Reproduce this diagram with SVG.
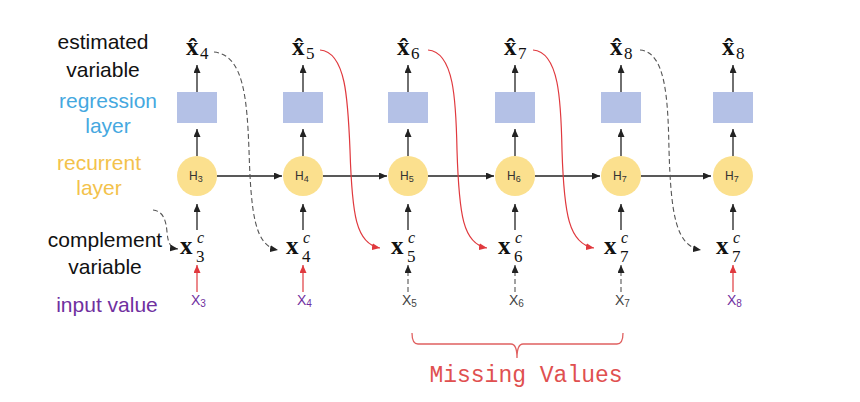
<svg xmlns="http://www.w3.org/2000/svg" width="860" height="402" viewBox="0 0 860 402">
<defs>
<marker id="ah" viewBox="0 0 8 7" refX="8" refY="3.5" markerWidth="8" markerHeight="7" orient="auto" markerUnits="userSpaceOnUse"><path d="M0,0 L8,3.5 L0,7 z" fill="#222"/></marker>
<marker id="ahr" viewBox="0 0 8 7" refX="8" refY="3.5" markerWidth="8" markerHeight="7" orient="auto" markerUnits="userSpaceOnUse"><path d="M0,0 L8,3.5 L0,7 z" fill="#e0393e"/></marker>
<style>
.lbl{font-family:"Liberation Sans",Arial,sans-serif;font-size:21px;text-anchor:middle}
.m{font-family:"Liberation Serif","DejaVu Serif",serif;fill:#111}
.bx{font-weight:bold;font-size:25px}
.sub{font-size:17px;font-weight:normal}
.sup{font-style:italic;font-size:16px;font-weight:normal}
.reg{fill:#b4c1e6}
.rec{fill:#fbe08e}
.h{font-family:"Liberation Sans",Arial,sans-serif;font-size:12px;fill:#333}
.hs{font-size:9px}
.in{font-family:"Liberation Sans",Arial,sans-serif;font-size:14px}
.ins{font-size:10px}
.p{fill:#7030a0}
.g{fill:#444}
.ar{stroke:#222;stroke-width:1.3;fill:none;marker-end:url(#ah)}
.rd{stroke:#e0393e;stroke-width:1.2;fill:none;marker-end:url(#ahr)}
.ds{stroke:#555;stroke-width:1.1;fill:none;stroke-dasharray:5,3;marker-end:url(#ah)}
</style>
</defs>
<rect width="860" height="402" fill="#fff"/>

<g id="legend">
<text class="lbl" x="103" y="49" fill="#111">estimated</text>
<text class="lbl" x="103" y="77" fill="#111">variable</text>
<text class="lbl" x="108" y="108" fill="#45a8e0">regression</text>
<text class="lbl" x="108" y="133" fill="#45a8e0">layer</text>
<text class="lbl" x="99" y="170" fill="#f3c24b">recurrent</text>
<text class="lbl" x="99" y="195" fill="#f3c24b">layer</text>
<text class="lbl" x="105" y="247" fill="#111">complement</text>
<text class="lbl" x="105" y="274" fill="#111">variable</text>
<text class="lbl" x="107" y="312" fill="#7030a0">input value</text>
</g>

<!-- column 1 -->
<g id="xhat4"><text class="m bx" x="186" y="55">x̂<tspan class="sub" x="200" y="59">4</tspan></text></g>
<g id="reg1"><rect class="reg" x="177" y="92" width="40" height="31"/></g>
<g id="H3"><circle class="rec" cx="197" cy="176" r="20"/><text class="h" x="189" y="180">H<tspan class="hs" dy="2">3</tspan></text></g>
<g id="xc3"><text class="m bx" x="180" y="254">x<tspan class="sup" x="197" y="243">c</tspan><tspan class="sub" x="196" y="262">3</tspan></text></g>
<g id="in3"><text class="in p" x="191" y="305">X<tspan class="ins" dy="2">3</tspan></text></g>

<!-- column 2 -->
<g id="xhat5"><text class="m bx" x="292" y="55">x̂<tspan class="sub" x="306" y="59">5</tspan></text></g>
<g id="reg2"><rect class="reg" x="283" y="92" width="40" height="31"/></g>
<g id="H4"><circle class="rec" cx="303" cy="176" r="20"/><text class="h" x="295" y="180">H<tspan class="hs" dy="2">4</tspan></text></g>
<g id="xc4"><text class="m bx" x="286" y="254">x<tspan class="sup" x="303" y="243">c</tspan><tspan class="sub" x="302" y="262">4</tspan></text></g>
<g id="in4"><text class="in p" x="297" y="305">X<tspan class="ins" dy="2">4</tspan></text></g>

<!-- column 3 -->
<g id="xhat6"><text class="m bx" x="397" y="55">x̂<tspan class="sub" x="411" y="59">6</tspan></text></g>
<g id="reg3"><rect class="reg" x="388" y="92" width="40" height="31"/></g>
<g id="H5"><circle class="rec" cx="408" cy="176" r="20"/><text class="h" x="400" y="180">H<tspan class="hs" dy="2">5</tspan></text></g>
<g id="xc5"><text class="m bx" x="391" y="254">x<tspan class="sup" x="408" y="243">c</tspan><tspan class="sub" x="407" y="262">5</tspan></text></g>
<g id="in5"><text class="in g" x="402" y="305">X<tspan class="ins" dy="2">5</tspan></text></g>

<!-- column 4 -->
<g id="xhat7"><text class="m bx" x="504" y="55">x̂<tspan class="sub" x="518" y="59">7</tspan></text></g>
<g id="reg4"><rect class="reg" x="495" y="92" width="40" height="31"/></g>
<g id="H6"><circle class="rec" cx="515" cy="176" r="20"/><text class="h" x="507" y="180">H<tspan class="hs" dy="2">6</tspan></text></g>
<g id="xc6"><text class="m bx" x="498" y="254">x<tspan class="sup" x="515" y="243">c</tspan><tspan class="sub" x="514" y="262">6</tspan></text></g>
<g id="in6"><text class="in g" x="509" y="305">X<tspan class="ins" dy="2">6</tspan></text></g>

<!-- column 5 -->
<g id="xhat8a"><text class="m bx" x="610" y="55">x̂<tspan class="sub" x="624" y="59">8</tspan></text></g>
<g id="reg5"><rect class="reg" x="601" y="92" width="40" height="31"/></g>
<g id="H7a"><circle class="rec" cx="621" cy="176" r="20"/><text class="h" x="613" y="180">H<tspan class="hs" dy="2">7</tspan></text></g>
<g id="xc7a"><text class="m bx" x="604" y="254">x<tspan class="sup" x="621" y="243">c</tspan><tspan class="sub" x="620" y="262">7</tspan></text></g>
<g id="in7"><text class="in g" x="615" y="305">X<tspan class="ins" dy="2">7</tspan></text></g>

<!-- column 6 -->
<g id="xhat8b"><text class="m bx" x="722" y="55">x̂<tspan class="sub" x="736" y="59">8</tspan></text></g>
<g id="reg6"><rect class="reg" x="713" y="92" width="40" height="31"/></g>
<g id="H7b"><circle class="rec" cx="733" cy="176" r="20"/><text class="h" x="725" y="180">H<tspan class="hs" dy="2">7</tspan></text></g>
<g id="xc7b"><text class="m bx" x="716" y="254">x<tspan class="sup" x="733" y="243">c</tspan><tspan class="sub" x="732" y="262">7</tspan></text></g>
<g id="in8"><text class="in p" x="727" y="305">X<tspan class="ins" dy="2">8</tspan></text></g>

<g id="missing">
<path d="M412,333 Q412,344 418,344 L511,344 Q517,344 517,358 Q517,344 523,344 L617,344 Q623,344 623,333" fill="none" stroke="#e06060" stroke-width="1.3"/>
<text x="526" y="382" font-family="'Liberation Mono','Courier New',monospace" font-size="23" fill="#e05050" text-anchor="middle">Missing Values</text>
</g>

<g id="connectors">
<path class="ar" d="M197,92 V65"/><path class="ar" d="M303,92 V65"/><path class="ar" d="M408,92 V65"/>
<path class="ar" d="M515,92 V65"/><path class="ar" d="M621,92 V65"/><path class="ar" d="M733,92 V65"/>
<path class="ar" d="M197,156 V129"/><path class="ar" d="M303,156 V129"/><path class="ar" d="M408,156 V129"/>
<path class="ar" d="M515,156 V129"/><path class="ar" d="M621,156 V129"/><path class="ar" d="M733,156 V129"/>
<path class="ar" d="M197,230 V204"/><path class="ar" d="M303,230 V204"/><path class="ar" d="M408,230 V204"/>
<path class="ar" d="M515,230 V204"/><path class="ar" d="M621,230 V204"/><path class="ar" d="M733,230 V204"/>
<path class="ar" d="M217,176 H282"/><path class="ar" d="M323,176 H387"/><path class="ar" d="M428,176 H494"/>
<path class="ar" d="M535,176 H600"/><path class="ar" d="M641,176 H711"/>
<path class="rd" d="M197,292 V265"/><path class="rd" d="M303,292 V265"/>
<path class="ds" d="M408,292 V265"/><path class="ds" d="M515,292 V265"/><path class="ds" d="M621,292 V265"/>
<path class="rd" d="M733,292 V265"/>
<path class="ds" d="M153,210 C163,211 166,220 167,232 C168,243 170,248 178,249"/>
<path class="ds" d="M214,52 C244,55 247,100 249,150 C251,215 255,246 278,250"/>
<path class="rd" d="M320,50 C346,52 348,100 350,150 C352,215 356,244 380,248"/>
<path class="rd" d="M428,50 C454,52 456,100 457,150 C459,215 463,244 487,248"/>
<path class="rd" d="M533,50 C559,52 561,100 562,150 C564,215 569,244 594,248"/>
<path class="ds" d="M640,50 C666,52 668,100 669,150 C671,215 676,246 701,250"/>
</g>
</svg>
